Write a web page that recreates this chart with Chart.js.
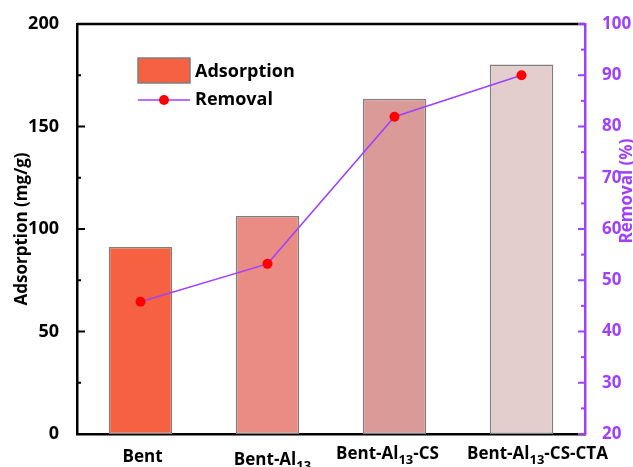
<!DOCTYPE html>
<html>
<head>
<meta charset="utf-8">
<script src="https://cdn.jsdelivr.net/npm/chart.js@4.4.0/dist/chart.umd.min.js"></script>
<style>
  html, body { margin: 0; padding: 0; background: #fff; }
</style>
</head>
<body>
<canvas id="chart" width="633" height="467"></canvas>
<script>
// data
const categories = ['Bent', 'Bent-Al13', 'Bent-Al13-CS', 'Bent-Al13-CS-CTA'];
const adsorption = [91.2, 106.3, 163.5, 180.2];   // mg/g, left axis
const removal = [45.8, 53.2, 81.9, 90.0];         // %, right axis
const barColours = ['#F66241', '#EA8B84', '#D99A98', '#E3CECD'];
const leftMinor = [25, 75, 125, 175];
const rightMinor = [25, 35, 45, 55, 65, 75, 85, 95];

const FONT = '"Open Sans"';
const PURPLE = '#A040FF';
// the labels in the original are nudged so the last two don't collide
const labelNudge = [2, 5, -7, 16];
const labelBase = [462, 465, 459, 459];

// draws the bits Chart.js won't: inward ticks, top frame, subscript labels, titles, legend
const extras = {
    id: 'extras',
    afterDraw(chart) {
        const ctx = chart.ctx;
        const area = chart.chartArea;
        const x = chart.scales.x, y = chart.scales.y, y2 = chart.scales.y2;
        ctx.save();

        // top frame line
        ctx.strokeStyle = '#000';
        ctx.lineWidth = 2.5;
        ctx.beginPath();
        ctx.moveTo(area.left, area.top);
        ctx.lineTo(area.right, area.top);
        ctx.stroke();

        // left ticks pointing inward
        ctx.lineWidth = 2;
        y.ticks.forEach(t => {
            const py = y.getPixelForValue(t.value);
            ctx.beginPath(); ctx.moveTo(area.left, py); ctx.lineTo(area.left + 8, py); ctx.stroke();
        });
        leftMinor.forEach(v => {
            const py = y.getPixelForValue(v);
            ctx.beginPath(); ctx.moveTo(area.left, py); ctx.lineTo(area.left + 4, py); ctx.stroke();
        });

        // right ticks, purple
        ctx.strokeStyle = PURPLE;
        y2.ticks.forEach(t => {
            const py = y2.getPixelForValue(t.value);
            ctx.beginPath(); ctx.moveTo(area.right, py); ctx.lineTo(area.right - 7, py); ctx.stroke();
        });
        rightMinor.forEach(v => {
            const py = y2.getPixelForValue(v);
            ctx.beginPath(); ctx.moveTo(area.right, py); ctx.lineTo(area.right - 4, py); ctx.stroke();
        });

        // category labels with subscript 13
        ctx.fillStyle = '#000';
        ctx.textBaseline = 'alphabetic';
        ctx.textAlign = 'left';
        categories.forEach((label, i) => {
            const parts = label.split(/(13)/).filter(p => p !== '');
            const fontOf = p => (p === '13' ? 'bold 13px ' : 'bold 17px ') + FONT;
            const widths = parts.map(p => { ctx.font = fontOf(p); return ctx.measureText(p).width; });
            const total = widths.reduce((a, b) => a + b, 0);
            let px = x.getPixelForValue(i) + labelNudge[i] - total / 2;
            parts.forEach((p, k) => {
                ctx.font = fontOf(p);
                ctx.fillText(p, px, labelBase[i] + (p === '13' ? 5 : 0));
                px += widths[k];
            });
        });

        // axis titles
        ctx.font = 'bold 17px ' + FONT;
        ctx.textAlign = 'center';
        ctx.textBaseline = 'middle';
        ctx.save();
        ctx.translate(22, (area.top + area.bottom) / 2);
        ctx.rotate(-Math.PI / 2);
        ctx.fillStyle = '#000';
        ctx.fillText('Adsorption (mg/g)', 0, 0);
        ctx.restore();
        ctx.save();
        ctx.translate(627, 191);
        ctx.rotate(-Math.PI / 2);
        ctx.fillStyle = PURPLE;
        ctx.fillText('Removal (%)', 0, 0);
        ctx.restore();

        // legend
        const bar = chart.data.datasets[1], line = chart.data.datasets[0];
        ctx.fillStyle = bar.backgroundColor[0];
        ctx.fillRect(138, 58, 52, 25);
        ctx.strokeStyle = bar.borderColor;
        ctx.lineWidth = 1.5;
        ctx.strokeRect(138, 58, 52, 25);
        ctx.strokeStyle = line.borderColor;
        ctx.lineWidth = line.borderWidth;
        ctx.beginPath(); ctx.moveTo(138, 100); ctx.lineTo(190, 100); ctx.stroke();
        ctx.fillStyle = line.pointBackgroundColor;
        ctx.beginPath(); ctx.arc(164, 100, 5, 0, Math.PI * 2); ctx.fill();
        ctx.fillStyle = '#000';
        ctx.font = 'bold 18px ' + FONT;
        ctx.textAlign = 'left';
        ctx.fillText('Adsorption', 195, 72);
        ctx.fillText('Removal', 195, 100);

        ctx.restore();
    }
};

new Chart(document.getElementById('chart'), {
    data: {
        labels: categories,
        datasets: [
            {
                type: 'line',
                label: 'Removal',
                data: removal,
                yAxisID: 'y2',
                borderColor: PURPLE,
                borderWidth: 1.5,
                pointRadius: 5,
                pointBorderWidth: 0,
                pointBackgroundColor: '#FF0000',
                tension: 0,
                order: 0,
            },
            {
                type: 'bar',
                label: 'Adsorption',
                data: adsorption,
                yAxisID: 'y',
                backgroundColor: barColours,
                borderColor: '#7F7F7F',
                borderWidth: 1.5,
                borderSkipped: false,
                barPercentage: 0.5,
                categoryPercentage: 1,
                order: 1,
            },
        ],
    },
    options: {
        responsive: false,
        animation: false,
        layout: { padding: { top: 24, left: 0, right: 0, bottom: 0 } },
        plugins: { legend: { display: false }, tooltip: { enabled: false } },
        scales: {
            x: {
                grid: { display: false },
                border: { display: true, color: '#000', width: 2.5 },
                ticks: { display: false },
                afterFit: s => { s.height = 33; },
            },
            y: {
                position: 'left',
                min: 0, max: 200,
                grid: { display: false },
                border: { display: true, color: '#000', width: 2.5 },
                ticks: { stepSize: 50, padding: 10, color: '#000', font: { family: FONT, size: 18, weight: 'bold' } },
                afterFit: s => { s.width = 77; },
            },
            y2: {
                position: 'right',
                min: 20, max: 100,
                grid: { display: false },
                border: { display: true, color: PURPLE, width: 2.5 },
                ticks: { stepSize: 10, padding: 9, color: PURPLE, font: { family: FONT, size: 17, weight: 'bold' } },
                afterFit: s => { s.width = 48; },
            },
        },
    },
    plugins: [extras],
});
</script>
</body>
</html>
